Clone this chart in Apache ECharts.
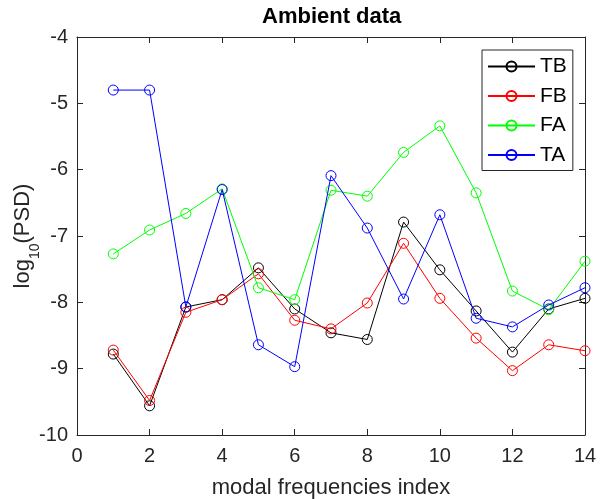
<!DOCTYPE html>
<html>
<head>
<meta charset="utf-8">
<script src="https://cdn.jsdelivr.net/npm/echarts@6/dist/echarts.min.js"></script>
<style>
html,body{margin:0;padding:0;background:#fff;}
#chart{width:600px;height:499px;}
</style>
</head>
<body>
<div id="chart"></div>
<script>
const xIndex = [1, 2, 3, 4, 5, 6, 7, 8, 9, 10, 11, 12, 13, 14];
const TB = [-8.78, -9.56, -8.07, -7.96, -7.48, -8.10, -8.46, -8.56, -6.79, -7.51, -8.13, -8.75, -8.10, -7.94];
const FB = [-8.72, -9.48, -8.15, -7.96, -7.57, -8.27, -8.40, -8.01, -7.11, -7.94, -8.54, -9.03, -8.64, -8.73];
const FA = [-7.27, -6.91, -6.66, -6.29, -7.78, -7.96, -6.31, -6.40, -5.74, -5.34, -6.35, -7.83, -8.11, -7.38];
const TA = [-4.80, -4.80, -8.07, -6.30, -8.64, -8.97, -6.09, -6.88, -7.95, -6.68, -8.24, -8.37, -8.04, -7.78];
const seriesNames = ['TB', 'FB', 'FA', 'TA'];
const seriesColors = ['#000000', '#ff0000', '#00ff00', '#0000ff'];
const seriesValues = [TB, FB, FA, TA];

const FONT = 'Liberation Sans';
const AX = '#262626';

function mkSeries(i) {
  return {
    name: seriesNames[i],
    type: 'line',
    xAxisIndex: 0,
    yAxisIndex: 0,
    data: xIndex.map((x, k) => [x, seriesValues[i][k]]),
    symbol: 'circle',
    symbolSize: 10,
    showSymbol: true,
    animation: false,
    lineStyle: { color: seriesColors[i], width: 1 },
    itemStyle: { color: 'rgba(0,0,0,0)', borderColor: seriesColors[i], borderWidth: 1 },
    emphasis: { disabled: true },
    z: 2 + i
  };
}

const chart = echarts.init(document.getElementById('chart'), null, { renderer: 'canvas' });
const baseX = { type: 'value', min: 0, max: 14, interval: 2 };
const baseY = { type: 'value', min: -10, max: -4, interval: 1 };
chart.setOption({
  animation: false,
  backgroundColor: '#ffffff',
  textStyle: { fontFamily: FONT },
  title: {
    text: 'Ambient data',
    left: 262, top: 6, padding: 0,
    textStyle: { fontFamily: FONT, fontSize: 22, fontWeight: 'bold', color: '#000' }
  },
  grid: { left: 77, right: 15, top: 37, bottom: 64, containLabel: false, outerBoundsMode: 'none' },
  legend: {
    data: seriesNames,
    orient: 'vertical',
    left: 482, top: 50,
    padding: [6, 6, 5, 5],
    itemWidth: 47, itemHeight: 12.5, itemGap: 8.5,
    backgroundColor: '#ffffff',
    borderColor: AX, borderWidth: 1, borderRadius: 0,
    textStyle: { fontFamily: FONT, fontSize: 21, color: '#000', lineHeight: 21 },
    selectedMode: false
  },
  xAxis: [
    Object.assign({}, baseX, {
      position: 'bottom',
      name: 'modal frequencies index',
      nameLocation: 'middle',
      nameGap: 42,
      nameMoveOverlap: false,
      nameTextStyle: { fontFamily: FONT, fontSize: 22, color: AX },
      axisLine: { show: true, onZero: false, lineStyle: { color: AX, width: 1 } },
      axisTick: { show: true, inside: true, length: 6, lineStyle: { color: AX } },
      axisLabel: { show: true, fontFamily: FONT, fontSize: 20, color: AX, margin: 11 },
      splitLine: { show: false }
    }),
    Object.assign({}, baseX, {
      position: 'top',
      axisLine: { show: true, onZero: false, lineStyle: { color: AX, width: 1 } },
      axisTick: { show: true, inside: true, length: 6, lineStyle: { color: AX } },
      axisLabel: { show: false },
      splitLine: { show: false }
    })
  ],
  yAxis: [
    Object.assign({}, baseY, {
      position: 'left',
      name: '{a|log}{b|10}{a|(PSD)}',
      nameLocation: 'middle',
      nameGap: 43,
      nameMoveOverlap: false,
      nameTextStyle: {
        fontFamily: FONT, fontSize: 22, color: AX,
        rich: {
          a: { fontFamily: FONT, fontSize: 22, color: AX, verticalAlign: 'top', lineHeight: 22 },
          b: { fontFamily: FONT, fontSize: 14, color: AX, verticalAlign: 'top', lineHeight: 14, padding: [16, 0, 0, 0] }
        }
      },
      axisLine: { show: true, onZero: false, lineStyle: { color: AX, width: 1 } },
      axisTick: { show: true, inside: true, length: 6, lineStyle: { color: AX } },
      axisLabel: { show: true, fontFamily: FONT, fontSize: 20, color: AX, margin: 9 },
      splitLine: { show: false }
    }),
    Object.assign({}, baseY, {
      position: 'right',
      axisLine: { show: true, onZero: false, lineStyle: { color: AX, width: 1 } },
      axisTick: { show: true, inside: true, length: 6, lineStyle: { color: AX } },
      axisLabel: { show: false },
      splitLine: { show: false }
    })
  ],
  series: [0, 1, 2, 3].map(mkSeries)
});
</script>
</body>
</html>
